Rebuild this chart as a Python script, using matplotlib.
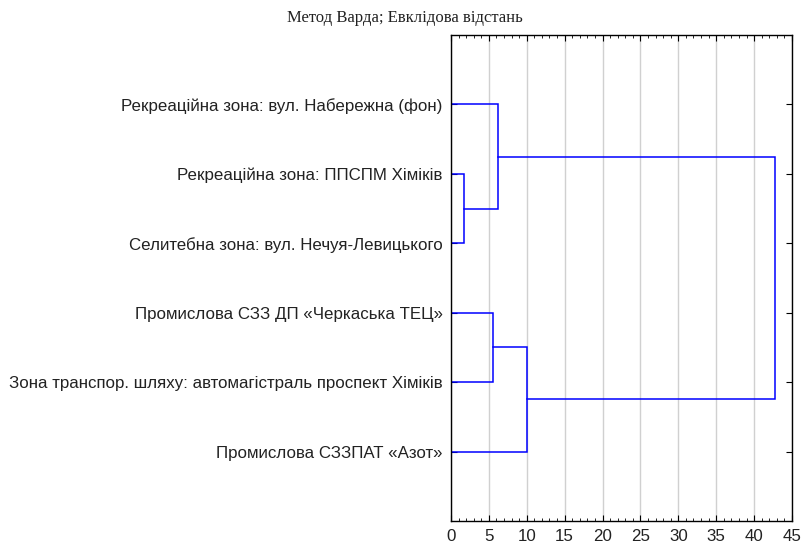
import matplotlib
matplotlib.use('Agg')
import matplotlib.pyplot as plt
from matplotlib.ticker import MultipleLocator

labels = ['Рекреаційна зона: вул. Набережна (фон)',
          'Рекреаційна зона: ППСПМ Хіміків',
          'Селитебна зона: вул. Нечуя-Левицького',
          'Промислова СЗЗ ДП «Черкаська ТЕЦ»',
          'Зона транспор. шляху: автомагістраль проспект Хіміків',
          'Промислова СЗЗПАТ «Азот»']
# merges: (cluster a, cluster b, linkage distance); new clusters get ids 6, 7, ...
merge_a = [1, 3, 0, 7, 8]
merge_b = [2, 4, 6, 5, 9]
merge_h = [1.7, 5.5, 6.2, 10.0, 42.8]

fig = plt.figure(figsize=(8.02, 5.48), dpi=100)
ax = fig.add_axes([0.5623, 0.0493, 0.4252, 0.8868])

pos = {i: i + 1 for i in range(len(labels))}
hgt = {i: 0.0 for i in range(len(labels))}
for k, (a, b, h) in enumerate(zip(merge_a, merge_b, merge_h)):
    ax.plot([hgt[a], h, h, hgt[b]], [pos[a], pos[a], pos[b], pos[b]],
            c='#0000ff', lw=1.1, solid_joinstyle='miter')
    new = len(labels) + k
    pos[new] = (pos[a] + pos[b]) / 2
    hgt[new] = h

ax.set_xlim(0, 45)
ax.set_ylim(len(labels) + 1, 0)
ax.xaxis.set_major_locator(MultipleLocator(5))
ax.xaxis.set_minor_locator(MultipleLocator(1))
ax.set_yticks(range(1, len(labels) + 1))
ax.set_yticklabels(labels, fontfamily='Liberation Sans', fontsize=12.15, color='#222222')
for t in ax.get_xticklabels():
    t.set_fontfamily('Liberation Sans')
    t.set_fontsize(12.15)
    t.set_color('#222222')
ax.tick_params(axis='x', which='both', direction='in', top=True, bottom=True)
ax.tick_params(axis='x', which='major', length=4, pad=6)
ax.tick_params(axis='x', which='minor', length=2.5)
ax.tick_params(axis='y', direction='in', left=True, right=True, length=4, pad=6)
ax.grid(axis='x', which='major', color='#d0d0d0', lw=1)
ax.set_axisbelow(True)
for s in ax.spines.values():
    s.set_linewidth(1.0)
    s.set_color('black')

fig.text(0.505, 0.967, 'Метод Варда; Евклідова відстань', ha='center', va='center',
         fontfamily='Liberation Serif', fontsize=12, color='#222222')

fig.savefig('out.png', dpi=100)
